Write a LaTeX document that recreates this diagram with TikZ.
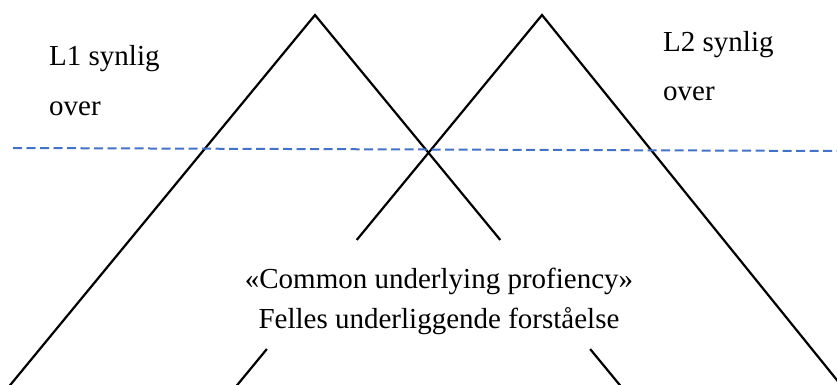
\documentclass[tikz,border=0pt]{standalone}
\usepackage{fontspec}
\setmainfont{Liberation Serif}
\usetikzlibrary{calc}

\definecolor{waterline}{RGB}{68,114,196}

\begin{document}
\begin{tikzpicture}[x=1pt, y=-1pt,
  leg/.style={line width=2.2pt, black},
  surface/.style={line width=2pt, waterline, dash pattern=on 9pt off 4.5pt},
  label/.style={font=\fontsize{29}{49}\selectfont, inner sep=0pt, align=left}]

% --- Frame ---
\useasboundingbox (0, 0) rectangle (837, 385);
\clip (0, 0) rectangle (837, 385);

% --- Apexes and feet of the two icebergs ---
\coordinate (Atop)   at (315, 15);
\coordinate (Aleft)  at (2, 395);
\coordinate (Aright) at (628, 395);
\coordinate (Btop)   at (542, 15);
\coordinate (Bleft)  at (229, 395);
\coordinate (Bright) at (849, 395);

% --- L1 iceberg ---
\draw[leg] (Aleft) -- (Atop) -- ($(Atop)!0.592!(Aright)$);
\draw[leg] ($(Atop)!0.879!(Aright)$) -- (Aright);

% --- L2 iceberg ---
\draw[leg] ($(Btop)!0.592!(Bleft)$) -- (Btop) -- (Bright);
\draw[leg] ($(Btop)!0.879!(Bleft)$) -- (Bleft);

% --- Surface line ---
\coordinate (sea west) at (13, 148);
\coordinate (sea east) at (837, 151);
\draw[surface] (sea west) -- (sea east);

% --- Labels (base anchor sits on the last line) ---
\node[label, anchor=base west] (l1) at (49, 115) {L1 synlig\\over};
\node[label, anchor=base west] (l2) at (663, 101) {L2 synlig\\over};

\node[font=\fontsize{29}{40}\selectfont, align=center, inner sep=0pt,
  anchor=base] (cup) at (439, 328)
  {«Common underlying profiency»\\Felles underliggende forståelse};

\end{tikzpicture}
\end{document}
